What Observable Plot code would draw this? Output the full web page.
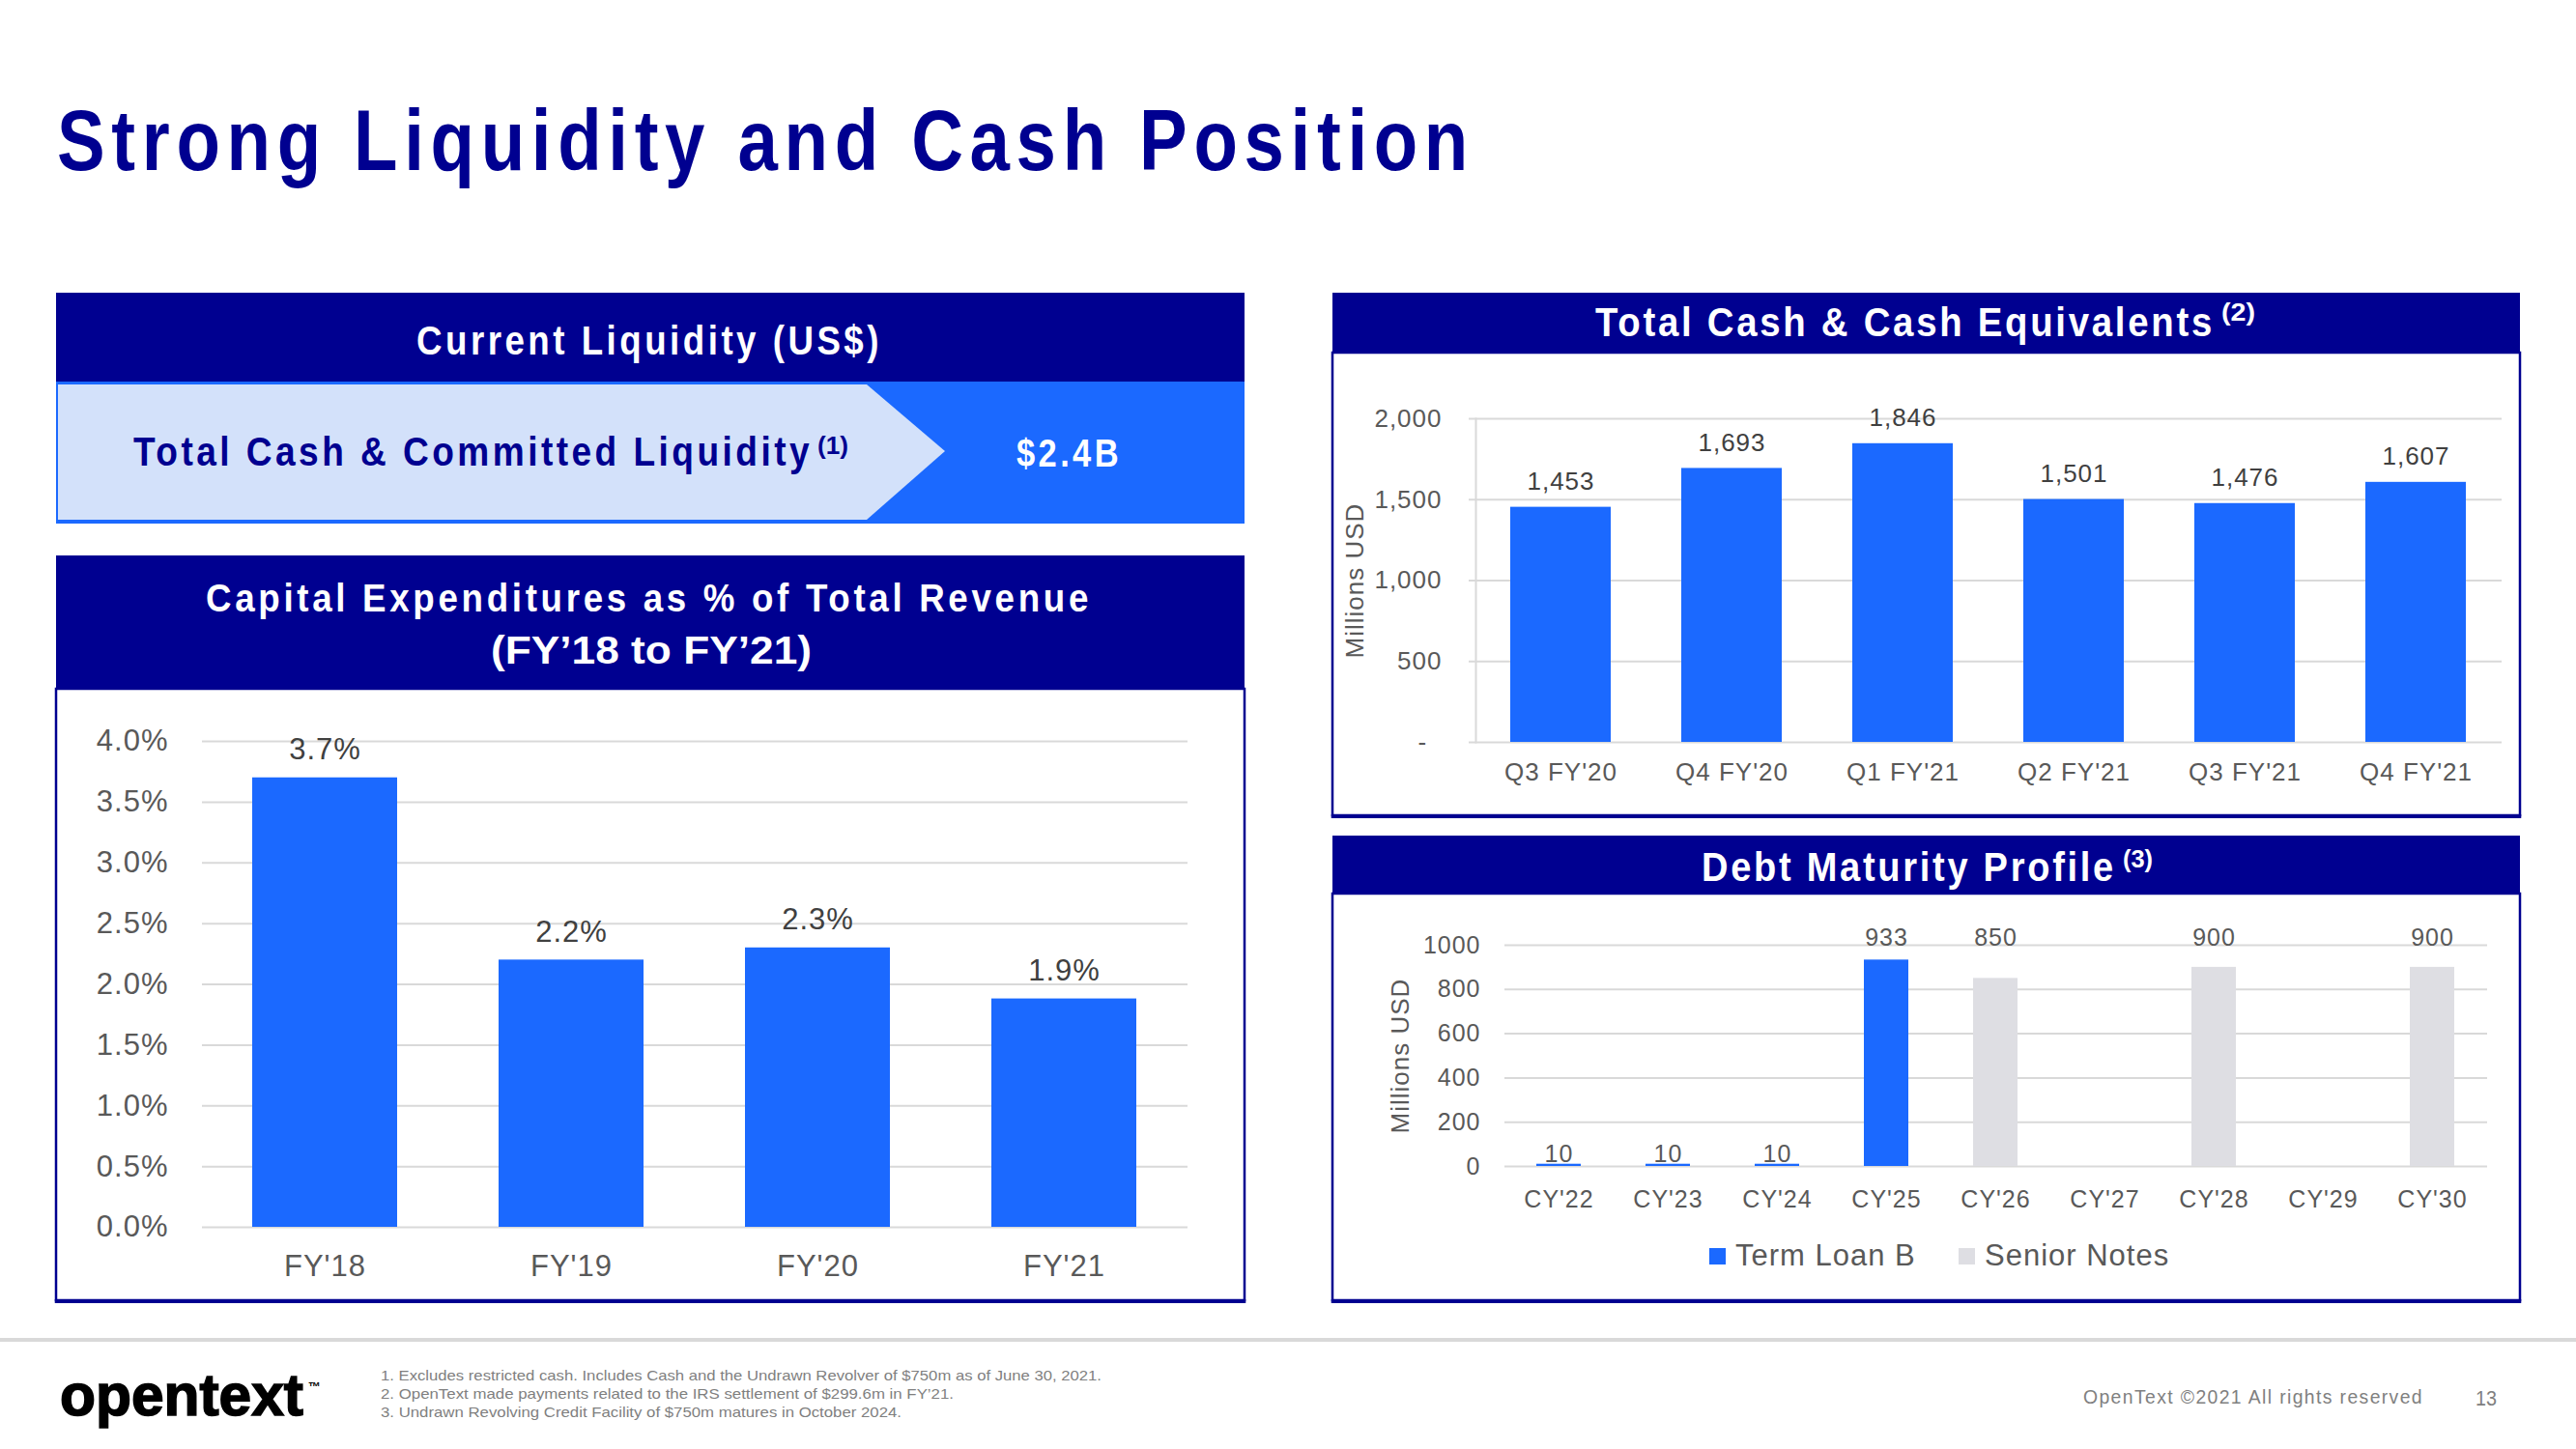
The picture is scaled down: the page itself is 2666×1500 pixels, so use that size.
<!DOCTYPE html>
<html><head><meta charset="utf-8">
<script src="https://cdn.jsdelivr.net/npm/d3@7"></script>
<script src="https://cdn.jsdelivr.net/npm/@observablehq/plot@0.6"></script>
<style>
html,body{margin:0;padding:0;background:#fff;}
#slide{position:relative;width:2666px;height:1500px;overflow:hidden;background:#fff;}
.chart{position:absolute;}
</style></head><body><div id="slide"></div>
<script>
// ---------------- data ----------------
const capexYears = ["FY'18", "FY'19", "FY'20", "FY'21"];
const capexPct = [3.7, 2.2, 2.3, 1.88];
const capexTicks = [0, 0.5, 1, 1.5, 2, 2.5, 3, 3.5, 4];

const cashQuarters = ["Q3 FY'20", "Q4 FY'20", "Q1 FY'21", "Q2 FY'21", "Q3 FY'21", "Q4 FY'21"];
const cashValues = [1453, 1693, 1846, 1501, 1476, 1607];
const cashTicks = [0, 500, 1000, 1500, 2000];

const debtYears = ["CY'22", "CY'23", "CY'24", "CY'25", "CY'26", "CY'27", "CY'28", "CY'29", "CY'30"];
const termLoanB = [10, 10, 10, 933, null, null, null, null, null];
const seniorNotes = [null, null, null, null, 850, null, 900, null, 900];
const debtTicks = [0, 200, 400, 600, 800, 1000];
const seriesNames = ["Term Loan B", "Senior Notes"];

const footnotes = [
  "1. Excludes restricted cash. Includes Cash and the Undrawn Revolver of $750m as of June 30, 2021.",
  "2. OpenText made payments related to the IRS settlement of $299.6m in FY\u201921.",
  "3. Undrawn Revolving Credit Facility of $750m matures in October 2024."
];

// ---------------- styles ----------------
const FONT = '"Liberation Sans", Arial, sans-serif';
const NAVY = "#000090";
const BLUE = "#1b69ff";
const LIGHT = "#d3e1fa";
const GRAYBAR = "#dedee3";
const GRID = "#d9d9d9";
const TICK = "#595959";
const LABEL = "#404040";

const slide = document.getElementById("slide");

// ---------------- background shapes + static text ----------------
const bg = d3.select(slide).append("svg")
  .attr("width", 2666).attr("height", 1500)
  .style("position", "absolute").style("left", 0).style("top", 0)
  .style("font-family", FONT);

function rect(x, y, w, h, fill) {
  bg.append("rect").attr("x", x).attr("y", y).attr("width", w).attr("height", h).attr("fill", fill);
}
function box(x, y, w, h) {
  bg.append("rect").attr("x", x).attr("y", y).attr("width", w).attr("height", h)
    .attr("fill", "none").attr("stroke", NAVY).attr("stroke-width", 2.5);
  rect(x - 1.25, y + h - 1, w + 2.5, 4, NAVY);
}
function styleText(t, o) {
  t.attr("font-size", o.size || 20)
    .attr("font-weight", o.weight || "normal")
    .attr("fill", o.fill || "#000");
  if (o.ls != null) t.attr("letter-spacing", o.ls);
  if (o.len) t.attr("textLength", o.len).attr("lengthAdjust", "spacingAndGlyphs");
  if (o.strokeW) t.attr("stroke", o.fill || "#000").attr("stroke-width", o.strokeW);
  return t;
}
function txt(s, x, y, o = {}) {
  const t = bg.append("text").attr("x", x).attr("y", y).text(s);
  return styleText(t, o);
}
// text with a superscript note marker, kept in a single text element
function txtSup(s, x, y, o, sup, sx, sy, so) {
  const t = bg.append("text");
  styleText(t.append("tspan").attr("x", x).attr("y", y).text(s), o);
  styleText(t.append("tspan").attr("x", sx).attr("y", sy).text(sup), so);
  return t;
}

// Current liquidity
rect(58, 303, 1230, 92, NAVY);
rect(58, 395, 1230, 147, BLUE);
bg.append("polygon").attr("points", "60,398 897,398 978,467 897,538 60,538").attr("fill", LIGHT);
// Capex header + body
rect(58, 575, 1230, 138, NAVY);
box(58, 713, 1230, 633);
// Cash header + body
rect(1379, 303, 1229, 62, NAVY);
box(1379, 365, 1229, 479);
// Debt header + body
rect(1379, 865, 1229, 60, NAVY);
box(1379, 925, 1229, 421);
// footer rule
rect(0, 1385, 2666, 4, "#d9d9d9");

// titles
txt("Strong Liquidity and Cash Position", 59, 176, {size: 89, weight: "bold", fill: NAVY, len: 1467, ls: 8});
txt("Current Liquidity (US$)", 431, 367, {size: 42, weight: "bold", fill: "#fff", len: 482, ls: 4});
txtSup("Total Cash & Committed Liquidity", 138, 482, {size: 43, weight: "bold", fill: NAVY, len: 703, ls: 4},
  "(1)", 846, 470, {size: 26, weight: "bold", fill: NAVY, len: 32});
txt("$2.4B", 1052, 483, {size: 41, weight: "bold", fill: "#fff", len: 109, ls: 4});
txt("Capital Expenditures as % of Total Revenue", 213, 633, {size: 40, weight: "bold", fill: "#fff", len: 917, ls: 4});
txt("(FY\u201918 to FY\u201921)", 508, 687, {size: 41, weight: "bold", fill: "#fff", len: 332});
txtSup("Total Cash & Cash Equivalents", 1651, 348, {size: 42, weight: "bold", fill: "#fff", len: 641, ls: 3},
  "(2)", 2299, 332, {size: 26, weight: "bold", fill: "#fff", len: 35});
txtSup("Debt Maturity Profile", 1761, 912, {size: 42, weight: "bold", fill: "#fff", len: 429, ls: 3},
  "(3)", 2197, 898, {size: 26, weight: "bold", fill: "#fff", len: 31});

// footer
txt("opentext", 62, 1465, {size: 62, weight: "bold", fill: "#000", len: 252, strokeW: 1.6});
txt("\u2122", 319, 1440, {size: 13, weight: "bold", fill: "#000"});
const fnY = [1429, 1448, 1467];
const fnLen = [746, 593, 539];
footnotes.forEach((f, i) => txt(f, 394, fnY[i], {size: 15, fill: "#7f7f7f", len: fnLen[i]}));
txt("OpenText \u00a92021 All rights reserved", 2156, 1453, {size: 21, fill: "#808080", len: 352, ls: 1.5});
txt("13", 2562, 1455, {size: 22, fill: "#808080", len: 22});

// ---------------- charts ----------------
function place(node, left, top) {
  const d = document.createElement("div");
  d.className = "chart";
  d.style.left = left + "px";
  d.style.top = top + "px";
  d.appendChild(node);
  slide.appendChild(d);
}
const baseStyle = (size, ls) => ({background: "transparent", fontFamily: FONT, fontSize: size + "px", color: TICK, letterSpacing: ls + "px", overflow: "visible"});

// Capex chart
const capexData = capexYears.map((c, i) => ({cat: c, v: capexPct[i]}));
const capex = Plot.plot({
  width: 1230, height: 634,
  marginLeft: 151, marginRight: 59, marginTop: 54, marginBottom: 77,
  style: baseStyle(31, 1),
  x: {domain: capexYears, paddingInner: 0.41, paddingOuter: 0.205, label: null},
  y: {domain: [0, 4], label: null},
  marks: [
    Plot.gridY(capexTicks, {stroke: GRID, strokeWidth: 2, strokeOpacity: 1}),
    Plot.barY(capexData, {x: "cat", y: "v", fill: BLUE}),
    Plot.text(capexData, {x: "cat", y: "v", text: d => d.v.toFixed(1) + "%", lineAnchor: "bottom", dy: -19, fill: LABEL, fontSize: 31}),
    Plot.axisY(capexTicks, {tickSize: 0, tickPadding: 35, tickFormat: d => d.toFixed(1) + "%", fill: TICK, fontSize: 31, label: null}),
    Plot.axisX({tickSize: 0, tickPadding: 28, fill: TICK, fontSize: 31, label: null})
  ]
});
place(capex, 58, 713);

// Cash chart
const cashData = cashQuarters.map((c, i) => ({cat: c, v: cashValues[i]}));
const cash = Plot.plot({
  width: 1229, height: 480,
  marginLeft: 148, marginRight: 19, marginTop: 68, marginBottom: 77,
  style: baseStyle(26, 1),
  x: {domain: cashQuarters, paddingInner: 0.41, paddingOuter: 0.205, label: null},
  y: {domain: [0, 2000], label: null},
  marks: [
    Plot.gridY(cashTicks, {stroke: GRID, strokeWidth: 2, strokeOpacity: 1}),
    Plot.frame({anchor: "left", stroke: GRID, strokeWidth: 2}),
    Plot.barY(cashData, {x: "cat", y: "v", fill: BLUE}),
    Plot.text(cashData, {x: "cat", y: "v", text: d => d3.format(",")(d.v), lineAnchor: "bottom", dy: -18, fill: LABEL, fontSize: 26}),
    Plot.axisY(cashTicks, {tickSize: 7, stroke: GRID, strokeWidth: 2, tickPadding: 28, fill: TICK, fontSize: 26, label: null,
      tickFormat: d => d === 0 ? "-\u2007" : d3.format(",")(d)}),
    Plot.axisX({tickSize: 0, tickPadding: 21, fill: TICK, fontSize: 26, label: null}),
    Plot.text(["Millions USD"], {frameAnchor: "left", textAnchor: "middle", rotate: -90, dx: -125, fill: TICK, fontSize: 26})
  ]
});
place(cash, 1379, 365);

// Debt chart
const debtData = [];
debtYears.forEach((c, i) => {
  if (termLoanB[i] != null) debtData.push({cat: c, v: termLoanB[i], s: seriesNames[0]});
  if (seniorNotes[i] != null) debtData.push({cat: c, v: seniorNotes[i], s: seriesNames[1]});
});
const debt = Plot.plot({
  width: 1229, height: 345,
  marginLeft: 178, marginRight: 34, marginTop: 53, marginBottom: 63,
  style: baseStyle(25, 1),
  x: {domain: debtYears, paddingInner: 0.59, paddingOuter: 0.295, label: null},
  y: {domain: [0, 1000], label: null},
  color: {domain: seriesNames, range: [BLUE, GRAYBAR]},
  marks: [
    Plot.gridY(debtTicks, {stroke: GRID, strokeWidth: 2, strokeOpacity: 1}),
    Plot.barY(debtData, {x: "cat", y: "v", fill: "s"}),
    Plot.text(debtData.filter(d => d.v < 100), {x: "cat", y: "v", text: d => String(d.v), lineAnchor: "bottom", dy: -2, fill: TICK, fontSize: 25}),
    Plot.text(debtData.filter(d => d.v >= 100), {x: "cat", frameAnchor: "top", text: d => String(d.v), lineAnchor: "bottom", fill: TICK, fontSize: 25}),
    Plot.axisY(debtTicks, {tickSize: 0, tickPadding: 25, fill: TICK, fontSize: 25, label: null, tickFormat: d => String(d)}),
    Plot.axisX({tickSize: 0, tickPadding: 25, fill: TICK, fontSize: 25, label: null}),
    Plot.text(["Millions USD"], {frameAnchor: "left", textAnchor: "middle", rotate: -90, dx: -108, fill: TICK, fontSize: 26})
  ]
});
place(debt, 1379, 925);

// Debt legend (below the chart svg)
const legendX = [1769, 2027];
const legendColors = [BLUE, GRAYBAR];
seriesNames.forEach((n, i) => {
  rect(legendX[i], 1292, 17, 17, legendColors[i]);
  txt(n, legendX[i] + 27, 1310, {size: 31, fill: TICK, ls: 1});
});
</script></body></html>
